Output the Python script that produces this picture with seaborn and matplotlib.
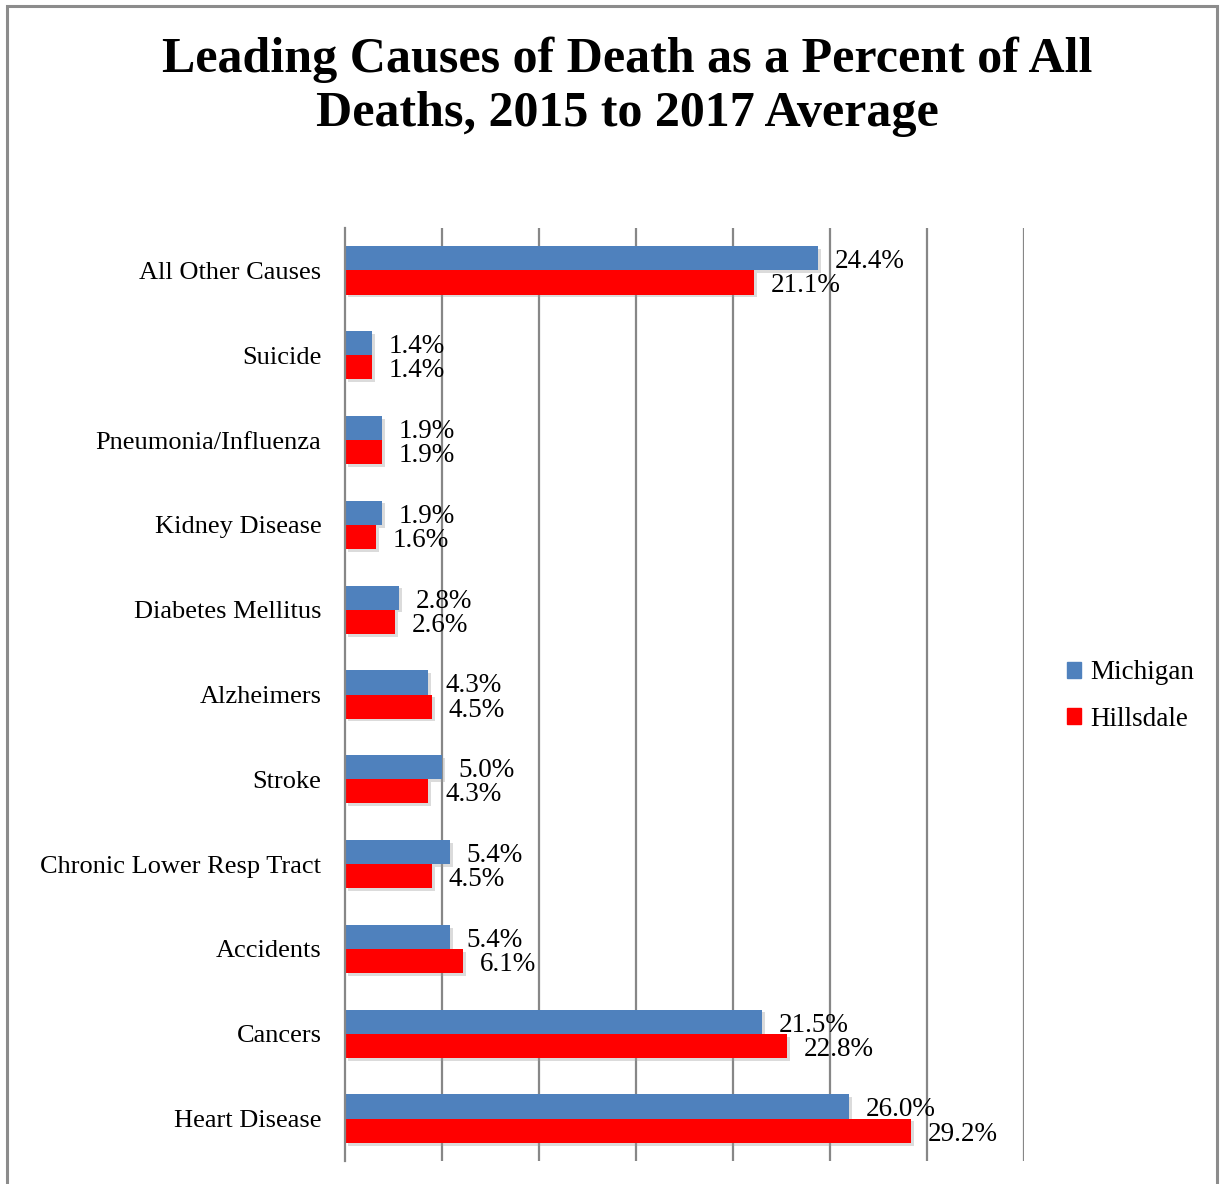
import matplotlib
matplotlib.use("Agg")
import matplotlib.pyplot as plt
import matplotlib.patheffects as pe
from matplotlib.patches import Rectangle
import seaborn as sns
import pandas as pd
import numpy as np

causes = [
    "All Other Causes", "Suicide", "Pneumonia/Influenza", "Kidney Disease",
    "Diabetes Mellitus", "Alzheimers", "Stroke", "Chronic Lower Resp Tract",
    "Accidents", "Cancers", "Heart Disease",
]
michigan = [24.4, 1.4, 1.9, 1.9, 2.8, 4.3, 5.0, 5.4, 5.4, 21.5, 26.0]
hillsdale = [21.1, 1.4, 1.9, 1.6, 2.6, 4.5, 4.3, 4.5, 6.1, 22.8, 29.2]
regions = ["Michigan", "Hillsdale"]
colors = ["#4F81BD", "#FF0000"]

df = pd.DataFrame({
    "cause": causes * 2,
    "pct": michigan + hillsdale,
    "region": [regions[0]] * len(causes) + [regions[1]] * len(causes),
})

sns.set_style("white")
plt.rcParams["font.family"] = ["Liberation Serif", "DejaVu Serif"]
plt.rcParams["text.color"] = "black"
plt.rcParams["ytick.labelcolor"] = "black"

fig = plt.figure(figsize=(12.21, 11.84), dpi=100)
ax = fig.add_axes([345 / 1221, 23 / 1184, 679 / 1221, 933 / 1184])

sns.barplot(
    data=df, x="pct", y="cause", hue="region", orient="h",
    order=causes, hue_order=regions, palette=colors, saturation=1,
    width=0.57, legend=False, ax=ax, linewidth=0,
)

shadow = [pe.SimplePatchShadow(offset=(2, -2), shadow_rgbFace="#999999", alpha=0.35), pe.Normal()]
for cont in ax.containers:
    for bar in cont:
        bar.set_path_effects(shadow)
    texts = ax.bar_label(cont, labels=[f"{v:.1f}%" for v in cont.datavalues],
                         padding=12, fontsize=19.5, color="black")
    for t in texts:
        t.xyann = (12, -2.5)

ax.set_xlim(0, 35)
ax.set_ylim(len(causes) - 0.5, -0.5)
ax.set_xlabel("")
ax.set_ylabel("")
ax.set_xticks([])
for xv in range(5, 36, 5):
    ax.axvline(xv, color="#878787", lw=1.6, zorder=0)

for side in ["top", "right", "bottom"]:
    ax.spines[side].set_visible(False)
ax.spines["left"].set_color("#878787")
ax.spines["left"].set_linewidth(1.6)

ax.tick_params(axis="y", which="major", length=0, pad=17, labelsize=19, labelcolor="black")
ax.set_yticks(np.arange(-0.5, len(causes), 1.0), minor=True)
ax.tick_params(axis="y", which="minor", length=6, width=1.6, color="#878787", direction="out")

fig.text(0.514, 1 - 87 / 1184,
         "Leading Causes of Death as a Percent of All\nDeaths, 2015 to 2017 Average",
         ha="center", va="center", fontsize=36, fontweight="bold",
         linespacing=1.22, color="black")

handles = [Rectangle((0, 0), 1, 1, color=c) for c in colors]
fig.legend(handles, regions, loc="center left", bbox_to_anchor=(1048 / 1221, 1 - 696 / 1184),
           frameon=False, fontsize=19.5, handlelength=0.5, handleheight=0.5,
           handletextpad=0.35, labelspacing=0.78, borderpad=0.2)

fig.patches.append(Rectangle((7 / 1221, -0.01), 1210 / 1221, 1 - 6 / 1184 + 0.01,
                             transform=fig.transFigure, fill=False,
                             edgecolor="#8C8C8C", lw=2.2))

fig.savefig("out.png", dpi=100)
